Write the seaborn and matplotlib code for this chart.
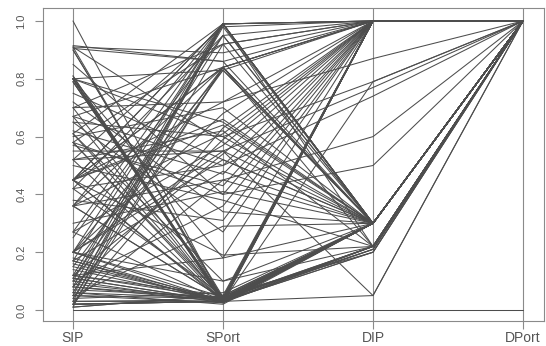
import matplotlib
matplotlib.use("Agg")
import matplotlib.pyplot as plt
import seaborn as sns
import pandas as pd

# Achsen des Parallelkoordinatenplots
axes_names = ["SIP", "SPort", "DIP", "DPort"]

# Werte je Datensatz (normiert 0..1), aus dem Bild geschaetzt
sip = [
    0.02, 0.05, 0.08, 0.11, 0.15, 0.18, 0.20, 0.01, 0.03, 0.06, 0.09, 0.12, 0.17, 0.27, 0.36,
    0.80, 0.80, 0.79, 0.81, 0.45, 0.42, 0.04, 0.14, 0.07,
    0.02, 0.05, 0.10, 0.16, 0.80, 0.79, 0.58, 0.12, 0.03, 0.20, 0.90, 0.08,
    0.80, 0.81, 0.79, 0.80, 0.91, 0.70, 0.67, 0.61, 0.52, 0.45, 0.02, 0.06, 0.11, 0.17, 0.01,
    0.90, 0.58, 0.36, 1.00,
    0.01, 0.05, 0.10, 0.17, 0.20, 0.27, 0.45, 0.45, 0.36, 0.03, 0.52, 0.08, 0.61,
    0.12, 0.42, 0.06, 0.70, 0.25, 0.58,
    0.905, 0.915, 0.02, 0.45, 0.45, 0.15, 0.36, 0.67, 0.04, 0.20, 0.80, 0.11, 0.91,
    0.70, 0.60, 0.20, 0.45, 0.80, 0.02, 0.52, 0.36, 0.65, 0.08, 0.91, 0.27, 0.55, 0.12, 0.75,
    0.42, 0.17, 0.62, 0.03, 0.57, 0.30, 0.85, 0.50, 0.10, 0.72, 0.38, 0.05, 0.65, 0.45, 0.20,
    0.45, 0.80, 0.20, 0.67, 0.36, 0.58, 0.02, 0.80, 0.52,
    0.80, 0.45, 0.12, 0.61, 0.20,
    0.00,
]
sport = [
    0.03, 0.025, 0.04, 0.03, 0.035, 0.03, 0.045, 0.05, 0.03, 0.02, 0.035, 0.04, 0.025, 0.03, 0.04,
    0.03, 0.035, 0.04, 0.03, 0.03, 0.05, 0.06, 0.03, 0.045,
    0.03, 0.04, 0.025, 0.03, 0.035, 0.03, 0.04, 0.05, 0.035, 0.03, 0.04, 0.03,
    0.03, 0.035, 0.04, 0.025, 0.03, 0.035, 0.03, 0.04, 0.03, 0.035, 0.03, 0.04, 0.03, 0.035, 0.05,
    0.045, 0.03, 0.04, 0.03,
    0.99, 0.99, 0.99, 0.99, 0.99, 0.99, 0.99, 0.99, 0.99, 0.99, 0.98, 0.98, 0.99,
    0.95, 0.95, 0.92, 0.92, 0.95, 0.92,
    0.86, 0.86, 0.84, 0.84, 0.84, 0.84, 0.84, 0.84, 0.84, 0.83, 0.83, 0.83, 0.89,
    0.72, 0.70, 0.68, 0.66, 0.65, 0.63, 0.62, 0.61, 0.60, 0.59, 0.58, 0.57, 0.55, 0.54, 0.52,
    0.50, 0.48, 0.47, 0.45, 0.43, 0.41, 0.40, 0.38, 0.36, 0.34, 0.31, 0.29, 0.27, 0.64, 0.52,
    0.72, 0.60, 0.55, 0.50, 0.45, 0.40, 0.03, 0.03, 0.55,
    0.18, 0.19, 0.18, 0.10, 0.10,
    0.00,
]
dip = [
    0.30, 0.30, 0.30, 0.30, 0.30, 0.30, 0.30, 0.30, 0.30, 0.30, 0.30, 0.30, 0.30, 0.30, 0.30,
    0.30, 0.30, 0.30, 0.30, 0.30, 0.30, 0.30, 0.30, 0.30,
    0.22, 0.21, 0.22, 0.20, 0.22, 0.21, 0.22, 0.20, 0.22, 0.21, 0.22, 0.20,
    1.0, 1.0, 1.0, 1.0, 1.0, 1.0, 1.0, 1.0, 1.0, 1.0, 1.0, 1.0, 1.0, 1.0, 1.0,
    1.0, 1.0, 1.0, 1.0,
    1.0, 1.0, 0.30, 0.30, 1.0, 0.30, 1.0, 0.30, 0.22, 0.30, 1.0, 0.30, 0.30,
    1.0, 0.30, 1.0, 0.30, 0.30, 1.0,
    0.30, 1.0, 1.0, 0.30, 1.0, 0.30, 0.30, 0.22, 1.0, 0.30, 1.0, 0.30, 1.0,
    1.0, 0.30, 1.0, 0.30, 0.30, 1.0, 0.22, 1.0, 0.30, 1.0, 0.30, 1.0, 0.30, 1.0, 0.30,
    1.0, 0.30, 1.0, 0.30, 1.0, 0.30, 1.0, 0.22, 1.0, 0.30, 1.0, 0.30, 1.0, 0.30, 0.30,
    0.87, 0.79, 0.77, 0.74, 0.60, 0.50, 0.79, 0.05, 0.05,
    0.30, 0.22, 1.0, 0.30, 0.22,
    0.00,
]
dport = [1.0] * (len(sip) - 1) + [0.0]

# Langformat fuer seaborn
rows = []
for i, vals in enumerate(zip(sip, sport, dip, dport)):
    for k, v in enumerate(vals):
        rows.append({"id": i, "achse": k + 1, "wert": v})
df = pd.DataFrame(rows)

sns.set_style("white")
fig = plt.figure(figsize=(5.46, 3.46), dpi=100)
ax = fig.add_axes([43 / 546, 25 / 346, 501 / 546, 313 / 346])

sns.lineplot(data=df, x="achse", y="wert", units="id", estimator=None,
             color="#4d4d4d", linewidth=0.75, legend=False, ax=ax)

for x in range(1, 5):
    ax.axvline(x, color="#8a8a8a", linewidth=0.8, zorder=0)

ax.set_xlim(0.8, 4.14)
ax.set_ylim(-0.038, 1.045)
ax.set_xticks([1, 2, 3, 4])
ax.set_xticklabels(axes_names, fontsize=10, color="#555555", family="Liberation Sans")
ax.set_yticks([0.0, 0.2, 0.4, 0.6, 0.8, 1.0])
ax.set_yticklabels(["0.0", "0.2", "0.4", "0.6", "0.8", "1.0"], rotation=90, va="center",
                   fontsize=8, color="#555555", family="Liberation Sans")
ax.tick_params(axis="both", direction="out", length=6, width=0.8, color="#8a8a8a",
               left=True, bottom=True)
ax.tick_params(axis="x", pad=1.5)
ax.tick_params(axis="y", pad=6)
ax.set_xlabel("")
ax.set_ylabel("")
for s in ax.spines.values():
    s.set_color("#8a8a8a")
    s.set_linewidth(0.8)

fig.savefig("out.png", dpi=100)
